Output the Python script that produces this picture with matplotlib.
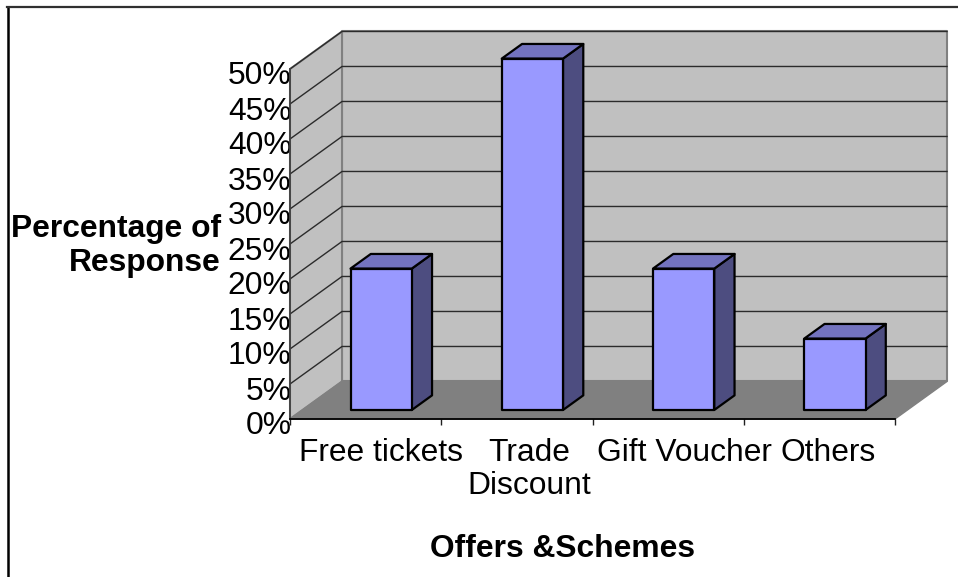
import matplotlib
matplotlib.use("Agg")
import matplotlib.pyplot as plt
from matplotlib.lines import Line2D
from matplotlib.patches import Polygon
from matplotlib.transforms import ScaledTranslation

plt.rcParams["font.family"] = ["Liberation Sans", "DejaVu Sans"]

categories = ["Free tickets", "Trade\nDiscount", "Gift Voucher", "Others"]
values = [20, 50, 20, 10]
y_ticks = [0, 5, 10, 15, 20, 25, 30, 35, 40, 45, 50]

W, H = 958, 577
FONT = 22.9

# how far "into the page" the back wall sits, in data units
DEPTH_X = 52 / 151.25
DEPTH_Y = 5.36
BAR_WIDTH = 0.405
BAR_FRONT = 0.24
BAR_DEPTH = 0.39
BAR_NUDGE = 0.02
TOP_LIFT = 0.2
LABEL_SHIFT = [0.10, 0.08, 0.11, 0.06]


def proj(x, y, depth=0.0):
    return x + depth * DEPTH_X, y + depth * DEPTH_Y


def face(ax, pts, color, edge, lw=1.0, z=2):
    xy = [proj(*p) for p in pts]
    ax.add_patch(Polygon(xy, closed=True, facecolor=color, edgecolor=edge,
                         linewidth=lw, zorder=z, clip_on=False, joinstyle="round"))


fig = plt.figure(figsize=(W / 100, H / 100), dpi=100, facecolor="white")
ax = fig.add_axes([290 / W, (H - 419) / H, 605 / W, 350 / H])
ax.set_xlim(0, len(categories))
ax.set_ylim(0, y_ticks[-1])
ax.patch.set_visible(False)
n = len(categories)
top = y_ticks[-1]

# walls and floor
face(ax, [(0, 0, 1), (n, 0, 1), (n, top, 1), (0, top, 1)], "#C0C0C0", "#808080", 1.5, 1)
face(ax, [(0, 0, 0), (0, top, 0), (0, top, 1), (0, 0, 1)], "#C0C0C0", "#808080", 1.5, 1)
face(ax, [(0, 0, 0), (n, 0, 0), (n, 0, 1), (0, 0, 1)], "#808080", "#808080", 1.0, 1)

# gridlines run along the side wall and the back wall
for t in y_ticks[1:]:
    xs, ys = zip(proj(0, t, 0), proj(0, t, 1), proj(n, t, 1))
    ax.plot(xs, ys, color="#2b2b2b", lw=1.0, zorder=1.5, clip_on=False)

# bars
for i, v in enumerate(values):
    x0 = i + 0.5 - BAR_WIDTH / 2 + BAR_NUDGE
    x1 = x0 + BAR_WIDTH
    d0, d1 = BAR_FRONT, BAR_FRONT + BAR_DEPTH
    h = v + TOP_LIFT
    face(ax, [(x1, 0, d0), (x1, 0, d1), (x1, h, d1), (x1, h, d0)], "#4D4D80", "black", 1.6, 3)
    face(ax, [(x0, h, d0), (x1, h, d0), (x1, h, d1), (x0, h, d1)], "#7373BF", "black", 1.6, 3)
    face(ax, [(x0, 0, d0), (x1, 0, d0), (x1, h, d0), (x0, h, d0)], "#9999FF", "black", 1.6, 4)

# axes
for side in ["top", "right"]:
    ax.spines[side].set_visible(False)
ax.spines["left"].set_color("#404040")
ax.spines["left"].set_linewidth(1.3)
ax.spines["bottom"].set_color("black")
ax.spines["bottom"].set_linewidth(1.3)
ax.spines["left"].set_zorder(6)
ax.spines["bottom"].set_zorder(6)

ax.set_xticks(range(n + 1))
ax.set_xticklabels([])
ax.tick_params(axis="x", length=4.5, width=1, color="#202020")
ax.set_yticks(y_ticks)
ax.set_yticklabels([f"{t}%" for t in y_ticks], fontsize=FONT, color="black")
ax.tick_params(axis="y", length=0, pad=-1)
# the % labels sit a few pixels below their gridline in the original
label_drop = ScaledTranslation(0, -4 / 100, fig.dpi_scale_trans)
for lab in ax.get_yticklabels():
    lab.set_transform(lab.get_transform() + label_drop)
    lab.set_zorder(7)

for i, c in enumerate(categories):
    ax.text(i + 0.5 + LABEL_SHIFT[i], -2.7, c, fontsize=FONT, ha="center", va="top",
            linespacing=1.14, color="black", clip_on=False)

ax.set_xlabel("Offers &Schemes", fontsize=FONT, fontweight="bold")
ax.xaxis.set_label_coords(273 / 605, -130 / 350)
ax.xaxis.label.set_verticalalignment("center")
ax.set_ylabel("Percentage of\nResponse", fontsize=FONT, fontweight="bold", rotation=0,
              ha="right", va="center", linespacing=1.14)
ax.yaxis.set_label_coords(-69 / 605, (419 - 246) / 350)

# chart frame
fig.add_artist(Line2D([8 / W, 8 / W], [0, (H - 7) / H], color="black", lw=1.8))
fig.add_artist(Line2D([7 / W, 1], [(H - 7) / H, (H - 7) / H], color="#303030", lw=1.6))

fig.savefig("out.png", dpi=100, facecolor="white")
plt.close(fig)
